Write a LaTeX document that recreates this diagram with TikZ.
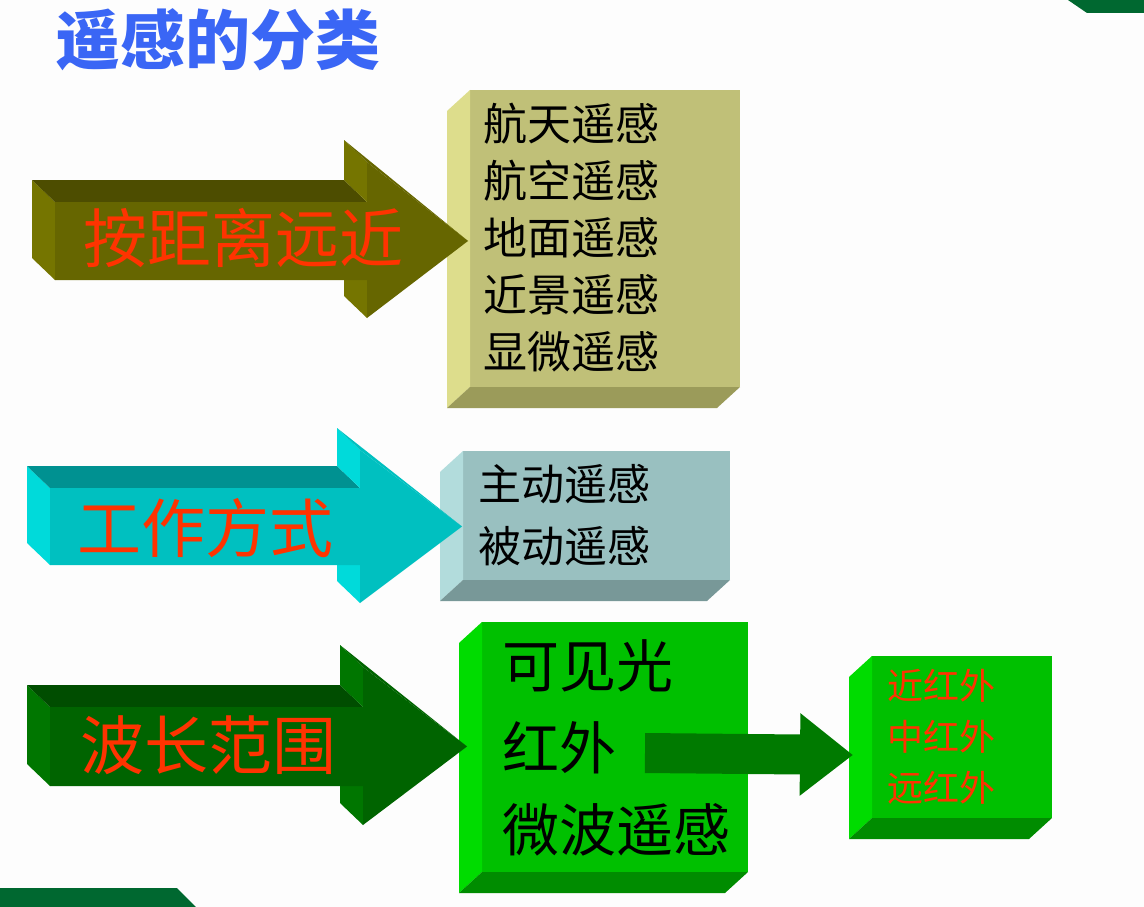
\documentclass[tikz,border=0pt]{standalone}
\usepackage{fontspec}
\setmainfont{Noto Sans CJK SC}
\usetikzlibrary{arrows.meta, calc, positioning}
\definecolor{titleblue}{RGB}{58,102,245}
\definecolor{labelred}{RGB}{255,51,0}
\definecolor{bandgreen}{RGB}{0,104,48}
\tikzset{
  % --- 3D block arrows ---
  olivefront/.style={fill={rgb,255:red,102;green,102;blue,0}},
  olivetop/.style={fill={rgb,255:red,77;green,77;blue,0}},
  oliveside/.style={fill={rgb,255:red,117;green,117;blue,0}},
  cyanfront/.style={fill={rgb,255:red,0;green,192;blue,192}},
  cyantop/.style={fill={rgb,255:red,0;green,145;blue,145}},
  cyanside/.style={fill={rgb,255:red,0;green,218;blue,218}},
  darkfront/.style={fill={rgb,255:red,0;green,100;blue,0}},
  darktop/.style={fill={rgb,255:red,0;green,77;blue,0}},
  darkside/.style={fill={rgb,255:red,0;green,118;blue,0}},
  % --- 3D boxes ---
  facebox/.style={rectangle, draw=none, inner sep=0pt, outer sep=0pt, anchor=north west},
  khakifront/.style={fill={rgb,255:red,192;green,192;blue,120}},
  khakiside/.style={fill={rgb,255:red,221;green,221;blue,140}},
  khakibottom/.style={fill={rgb,255:red,155;green,155;blue,90}},
  greyfront/.style={fill={rgb,255:red,153;green,192;blue,192}},
  greyside/.style={fill={rgb,255:red,178;green,220;blue,220}},
  greybottom/.style={fill={rgb,255:red,120;green,152;blue,152}},
  limefront/.style={fill={rgb,255:red,0;green,192;blue,0}},
  limeside/.style={fill={rgb,255:red,0;green,220;blue,0}},
  limebottom/.style={fill={rgb,255:red,0;green,140;blue,0}},
  % --- texts ---
  arrowlabel/.style={anchor=west, inner sep=0pt, text=labelred,
                     font=\fontsize{64}{64}\selectfont},
  listtext/.style={anchor=west, inner sep=0pt, align=left},
  subarrow/.style={draw={rgb,255:red,0;green,122;blue,0}, line width=40pt,
                   -{Triangle[length=53pt, width=79pt]}},
}
% #1 colour prefix, #2 left x, #3 head x, #4/#5 shaft top/bottom, #6/#7 head top/bottom, #8 tip x
\newcommand{\bigarrow}[8]{%
  \fill[#1side] (#2-23,#4-22) -- (#2,#4) -- (#2,#5) -- (#2-23,#5-22) -- cycle;
  \fill[#1top] (#2-23,#4-22) -- (#3-23,#4-22) -- (#3,#4) -- (#2,#4) -- cycle;
  \fill[#1side] (#3-23,#6-22) -- (#3,#6) -- (#3,#4) -- (#3-23,#4-22) -- cycle;
  \fill[#1side] (#3-23,#5-22) -- (#3,#5) -- (#3,#7) -- (#3-23,#7-22) -- cycle;
  \fill[#1front] (#3-23,#6-22) -- (#3,#6) -- (#8,{(#4+#5)/2}) -- cycle;
  \fill[#1front] (#2,#4) -- (#3,#4) -- (#3,#6) -- (#8,{(#4+#5)/2})
    -- (#3,#7) -- (#3,#5) -- (#2,#5) -- cycle;
}
% #1 front node, #2 colour prefix
\newcommand{\boxsides}[2]{%
  \fill[#2side] ($(#1.north west)+(-23,21)$) -- (#1.north west) -- (#1.south west)
    -- ($(#1.south west)+(-23,21)$) -- cycle;
  \fill[#2bottom] (#1.south west) -- (#1.south east) -- ($(#1.south east)+(-23,21)$)
    -- ($(#1.south west)+(-23,21)$) -- cycle;
}

\begin{document}
\begin{tikzpicture}[x=1pt, y=-1pt]
  \useasboundingbox[fill={rgb,255:red,253;green,253;blue,253}] (0,0) rectangle (1144,907);

  % corner bands
  \fill[bandgreen] (1068,0) -- (1087,13) -- (1144,13) -- (1144,0) -- cycle;
  \fill[bandgreen] (0,888) -- (177,888) -- (196,907) -- (0,907) -- cycle;

  \node[anchor=west, inner sep=0pt, text=titleblue,
        font=\fontsize{65}{65}\selectfont\bfseries] (title) at (55,40) {遥感的分类};

  % row 1
  \node[facebox, khakifront, minimum width=270pt, minimum height=297pt] (distface) at (470,90) {};
  \boxsides{distface}{khaki}
  \node[listtext, font=\fontsize{44}{57}\selectfont] (distlist) at (483,238)
    {航天遥感\\航空遥感\\地面遥感\\近景遥感\\显微遥感};
  \bigarrow{olive}{55}{367}{202}{280}{162}{318}{468}
  \node[arrowlabel] (dist) at (83,238) {按距离远近};

  % row 2
  \node[facebox, greyfront, minimum width=267pt, minimum height=129pt] (modeface) at (463,451) {};
  \boxsides{modeface}{grey}
  \node[listtext, font=\fontsize{43}{62}\selectfont] (modelist) at (478,515)
    {主动遥感\\被动遥感};
  \bigarrow{cyan}{50}{360}{488}{565}{450}{603}{462}
  \node[arrowlabel] (mode) at (77,528) {工作方式};

  % row 3
  \node[facebox, limefront, minimum width=266pt, minimum height=250pt] (bandface) at (482,622) {};
  \boxsides{bandface}{lime}
  \node[listtext, font=\fontsize{57}{82}\selectfont] (bandlist) at (502,748)
    {可见光\\红外\\微波遥感};
  \bigarrow{dark}{50}{363}{707}{786}{667}{825}{467}
  \node[arrowlabel] (band) at (80,745) {波长范围};

  \node[facebox, limefront, minimum width=180pt, minimum height=162pt] (irface) at (872,656) {};
  \boxsides{irface}{lime}
  \node[listtext, text=labelred, font=\fontsize{36}{51}\selectfont] (irlist) at (887,737)
    {近红外\\中红外\\远红外};

  \coordinate (irtail) at (645,753);
  \coordinate (irtip) at ($(irface.west)+(-19,18)$);
  \draw[subarrow] (irtail) -- (irtip);
\end{tikzpicture}
\end{document}
